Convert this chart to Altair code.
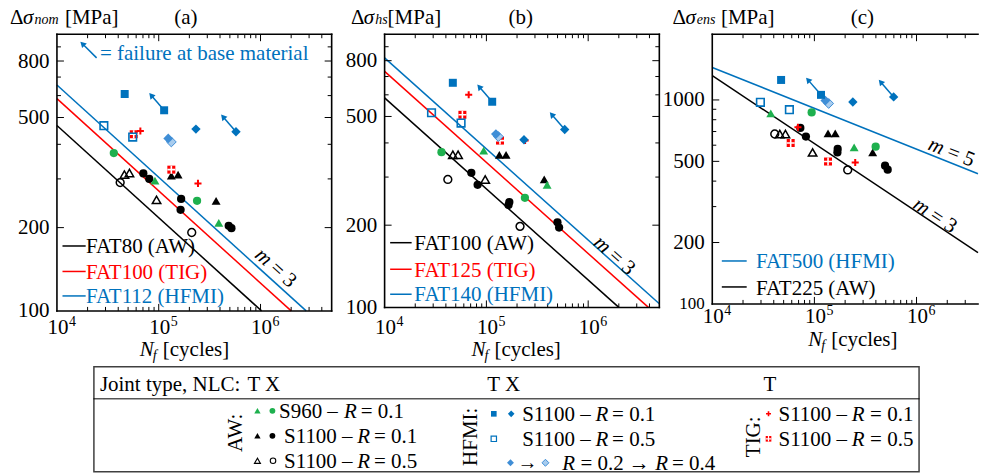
import altair as alt
import pandas as pd
import math

FONT = "Liberation Serif"
BLUE = "#0072BD"
RED = "#FF0000"
GREEN = "#1EB04E"
MIDBLUE = "#3F8ED6"
LIGHTBLUE = "#A8CCEE"
BLACK = "#000000"

# ======================= DATA =======================
# ---- panel (a): nominal stress ----
series_a = ["AW_960_T", "AW_960_T", "AW_960_X", "AW_960_X",
            "AW_01_T", "AW_01_T", "AW_01_T",
            "AW_01_X", "AW_01_X", "AW_01_X", "AW_01_X", "AW_01_X", "AW_01_X",
            "AW_05_T", "AW_05_T", "AW_05_T", "AW_05_X", "AW_05_X",
            "HF_01_T", "HF_01_T", "HF_01_X", "HF_01_X", "HF_05_T", "HF_05_T",
            "HF_R02", "HF_R04", "TIG_01", "TIG_01", "TIG_05", "TIG_05"]
N_a = [91800, 389000, 36200, 238000,
       133000, 155000, 366000,
       70600, 80700, 166000, 164000, 487000, 518000,
       46000, 51500, 95200, 41800, 211000,
       46300, 113000, 232000, 574000, 28900, 55500,
       124000, 133000, 66000, 243000, 56800, 133000]
S_a = [296, 208, 372, 250,
       308, 311, 250,
       314, 300, 254, 232, 203, 199,
       311, 315, 252, 291, 192,
       608, 531, 454, 444, 467, 425,
       420, 408, 447, 289, 435, 324]

# ---- panel (b): hot-spot stress ----
series_b = ["AW_960_T", "AW_960_T", "AW_960_X", "AW_960_X",
            "AW_01_T", "AW_01_T", "AW_01_T",
            "AW_01_X", "AW_01_X", "AW_01_X", "AW_01_X", "AW_01_X", "AW_01_X",
            "AW_05_T", "AW_05_T", "AW_05_T", "AW_05_X", "AW_05_X",
            "HF_01_T", "HF_01_T", "HF_01_X", "HF_01_X", "HF_05_T", "HF_05_T",
            "HF_R02", "HF_R04", "TIG_01", "TIG_01", "TIG_05", "TIG_05"]
N_b = [94000, 395000, 36200, 239000,
       134000, 156000, 370000,
       71100, 82000, 168000, 165000, 499000, 518000,
       46800, 52700, 97300, 41800, 214000,
       46800, 114000, 234000, 588000, 28900, 56400,
       124000, 131000, 67000, 240000, 58100, 136000]
S_b = [375, 281, 370, 252,
       362, 362, 294,
       311, 281, 243, 237, 205, 196,
       362, 362, 294, 294, 198,
       664, 566, 411, 448, 516, 473,
       431, 422, 600, 408, 507, 408]

# ---- panel (c): effective notch stress ----
series_c = ["AW_960_T", "AW_960_T", "AW_960_X", "AW_960_X",
            "AW_01_T", "AW_01_T", "AW_01_T",
            "AW_01_X", "AW_01_X", "AW_01_X", "AW_01_X", "AW_01_X", "AW_01_X",
            "AW_05_T", "AW_05_T", "AW_05_T", "AW_05_X", "AW_05_X",
            "HF_01_T", "HF_01_T", "HF_01_X", "HF_01_X", "HF_05_T", "HF_05_T",
            "HF_R02", "HF_R04", "TIG_01", "TIG_01", "TIG_05", "TIG_05"]
N_c = [37400, 245000, 94000, 398000,
       136000, 160000, 372000,
       72800, 82600, 169000, 168000, 492000, 522000,
       45800, 52000, 96000, 40900, 212000,
       47200, 116000, 238000, 597000, 29600, 56900,
       128000, 138000, 69000, 251000, 58600, 136000]
S_c = [859, 586, 869, 590,
       686, 686, 553,
       729, 661, 575, 553, 476, 455,
       681, 681, 553, 681, 454,
       1253, 1059, 977, 1035, 973, 896,
       993, 961, 734, 494, 615, 499]

# points that failed at base material (arrow origins)
arrowN_a = [113000, 574000]
arrowS_a = [531, 444]
arrowN_b = [114000, 588000]
arrowS_b = [566, 448]
arrowN_c = [116000, 597000]
arrowS_c = [1059, 1035]

# FAT design curves (end points)
fat_names_a = ["FAT80 (AW)", "FAT100 (TIG)", "FAT112 (HFMI)"]
fatN_a = [[1e4, 1.024e6], [1e4, 2.0e6], [1e4, 2.81e6]]
fatS_a = [[468, 100], [585, 100], [655, 100]]
fat_names_b = ["FAT100 (AW)", "FAT125 (TIG)", "FAT140 (HFMI)"]
fatN_b = [[1e4, 2.0e6], [1e4, 3.906e6], [1e4, 5.0e6]]
fatS_b = [[585, 100], [731, 100], [819, 103.2]]
fat_names_c = ["FAT500 (HFMI)", "FAT225 (AW)"]
fatN_c = [[1e4, 4.0e6], [1e4, 4.0e6]]
fatS_c = [[1443, 435], [1316, 178.6]]

# axis ticks
x_dec_vals = [1e4, 1e5, 1e6]
x_dec_exp = ["4", "5", "6"]
x_major = [1e5, 1e6]
x_minor_ab = [2e4, 3e4, 4e4, 5e4, 6e4, 7e4, 8e4, 9e4, 2e5, 3e5, 4e5, 5e5, 6e5, 7e5, 8e5, 9e5, 2e6, 3e6, 4e6]
x_minor_c = [2e4, 3e4, 4e4, 5e4, 6e4, 7e4, 8e4, 9e4, 2e5, 3e5, 4e5, 5e5, 6e5, 7e5, 8e5, 9e5, 2e6, 3e6]
y_labels_ab = [100, 200, 500, 800]
y_major_ab = [200, 500, 800]
y_minor_ab = [300, 400, 600, 700, 900]
y_labels_c = [100, 200, 500, 1000]
y_major_c = [200, 500, 1000]
y_minor_c = [300, 400, 600, 700, 800, 900]

# ======================= HELPERS =======================
ONE = pd.DataFrame({"k": [0]})
PLUS = "M-1,0L1,0M0,-1L0,1"


def txt(x, y, s, size=21, italic=False, color=BLACK, align="left", baseline="alphabetic", angle=0):
    kw = dict(text=s, font=FONT, fontSize=size, fontStyle="italic" if italic else "normal",
              color=color, align=align, baseline=baseline)
    if angle:
        kw["angle"] = angle
    return alt.Chart(ONE).mark_text(**kw).encode(x=alt.value(x), y=alt.value(y))


def hrule(x1, x2, y, color=BLACK, width=1.0):
    return alt.Chart(ONE).mark_rule(color=color, strokeWidth=width, strokeCap="square").encode(
        x=alt.value(x1), x2=alt.value(x2), y=alt.value(y))


def vrule(x, y1, y2, color=BLACK, width=1.0):
    return alt.Chart(ONE).mark_rule(color=color, strokeWidth=width, strokeCap="square").encode(
        x=alt.value(x), y=alt.value(y1), y2=alt.value(y2))


def marker_styles(key, k=1.0):
    tri, cir, sq, dia = 80 * k, 68 * k, 64 * k, 88 * k
    sw = 1.5 if k >= 1 else 1.1
    if key == "AW_960_T":
        return [dict(shape="triangle-up", filled=True, color=GREEN, size=tri)]
    if key == "AW_960_X":
        return [dict(shape="circle", filled=True, color=GREEN, size=cir)]
    if key == "AW_01_T":
        return [dict(shape="triangle-up", filled=True, color=BLACK, size=tri)]
    if key == "AW_01_X":
        return [dict(shape="circle", filled=True, color=BLACK, size=cir)]
    if key == "AW_05_T":
        return [dict(shape="triangle-up", filled=False, color=BLACK, size=tri * 0.9, strokeWidth=sw)]
    if key == "AW_05_X":
        return [dict(shape="circle", filled=False, color=BLACK, size=cir * 0.9, strokeWidth=sw)]
    if key == "HF_01_T":
        return [dict(shape="square", filled=True, color=BLUE, size=sq)]
    if key == "HF_01_X":
        return [dict(shape="diamond", filled=True, color=BLUE, size=dia)]
    if key == "HF_05_T":
        return [dict(shape="square", filled=False, color=BLUE, size=sq * 0.9, strokeWidth=sw + 0.1)]
    if key == "HF_R02":
        return [dict(shape="diamond", filled=True, color=MIDBLUE, size=dia * 1.1)]
    if key == "HF_R04":
        return [dict(shape="diamond", filled=True, fill=LIGHTBLUE, stroke=MIDBLUE, strokeWidth=1, size=dia * 1.1)]
    if key == "TIG_01":
        return [dict(shape=PLUS, filled=False, color=RED, size=50 * k, strokeWidth=2 if k >= 1 else 1.6)]
    if key == "TIG_05":
        return [dict(shape="square", filled=True, color=RED, size=sq),
                dict(shape=PLUS, filled=False, color="white", size=sq, strokeWidth=1.6 if k >= 1 else 1.2)]
    return []


ORDER = ["AW_05_X", "AW_05_T", "AW_01_X", "AW_01_T", "AW_960_X", "AW_960_T",
         "TIG_05", "TIG_01", "HF_05_T", "HF_R04", "HF_R02", "HF_01_T", "HF_01_X"]


def build_panel(P):
    W, H = P["W"], P["H"]
    xdom, ydom = P["xdom"], P["ydom"]
    xs = alt.Scale(type="log", domain=xdom, nice=False)
    ys = alt.Scale(type="log", domain=ydom, nice=False)
    lfs = 21
    if P.get("small100"):
        lfs = {"condition": {"test": "datum.value == 100", "value": 17}, "value": 21}
    yaxis = alt.Axis(values=P["ylab"], format="d", ticks=False, tickSize=0, domain=False, grid=False,
                     labelFont=FONT, labelFontSize=lfs, labelColor=BLACK, labelPadding=8,
                     title=None, labelOverlap=False, labelFlush=False)

    def X(f):
        return alt.X(f, type="quantitative", scale=xs, axis=None)

    def Y(f):
        return alt.Y(f, type="quantitative", scale=ys, axis=yaxis)

    L = []
    if P.get("anchor"):
        L.append(alt.Chart(ONE).mark_rule(color="white", strokeWidth=0.5).encode(
            x=alt.value(-56), x2=alt.value(-55), y=alt.value(-33)))

    # design curves
    for Ns, Ss, col in zip(P["fatN"], P["fatS"], P["fatC"]):
        d = pd.DataFrame({"N": Ns, "S": Ss})
        L.append(alt.Chart(d).mark_line(color=col, strokeWidth=1.5).encode(x=X("N"), y=Y("S")))

    # arrows (failure at base material)
    ppx = W / math.log10(xdom[1] / xdom[0])
    ppy = H / math.log10(ydom[1] / ydom[0])
    fx = 10 ** (-13 / ppx)
    fy = 10 ** (15 / ppy)
    da = pd.DataFrame({"N": P["arrN"], "S": P["arrS"]})
    da["N2"] = da["N"] * fx
    da["S2"] = da["S"] * fy
    L.append(alt.Chart(da).mark_rule(color=BLUE, strokeWidth=1.5).encode(
        x=X("N"), x2=alt.X2("N2"), y=Y("S"), y2=alt.Y2("S2")))
    L.append(alt.Chart(da).mark_point(shape="triangle-up", filled=True, color=BLUE, opacity=1,
                                      size=45, angle=319).encode(x=X("N2"), y=Y("S2")))

    # markers
    df = pd.DataFrame({"series": P["series"], "N": P["N"], "S": P["S"]})
    for key in ORDER:
        sub = df[df["series"] == key]
        if len(sub) == 0:
            continue
        base = alt.Chart(sub).encode(x=X("N"), y=Y("S"))
        for st in marker_styles(key):
            L.append(base.mark_point(opacity=1, **st))

    # inward ticks
    def yt(vals, ln):
        d = pd.DataFrame({"v": vals})
        out = [alt.Chart(d).mark_rule(color=BLACK, strokeWidth=1).encode(y=Y("v"), x=alt.value(0), x2=alt.value(ln))]
        if P["right"]:
            out.append(alt.Chart(d).mark_rule(color=BLACK, strokeWidth=1).encode(
                y=Y("v"), x=alt.value(W), x2=alt.value(W - ln)))
        return out

    def xt(vals, ln):
        d = pd.DataFrame({"v": vals})
        return [alt.Chart(d).mark_rule(color=BLACK, strokeWidth=1).encode(x=X("v"), y=alt.value(H), y2=alt.value(H - ln)),
                alt.Chart(d).mark_rule(color=BLACK, strokeWidth=1).encode(x=X("v"), y=alt.value(0), y2=alt.value(ln))]

    L += yt(P["ymaj"], 7) + yt(P["ymin"], 4) + xt(x_major, 7) + xt(P["xmin"], 4)

    # frame
    L.append(vrule(0, 0, H, width=1.6))
    L.append(hrule(0, W, H, width=1.6))
    L.append(hrule(0, W, 0, width=1.6))
    if P["right"]:
        L.append(vrule(W, 0, H, width=1.6))

    # x tick labels 10^k
    dl = pd.DataFrame({"v": x_dec_vals, "e": x_dec_exp})
    bl = alt.Chart(dl).encode(x=X("v"))
    L.append(bl.mark_text(text="10", font=FONT, fontSize=21, align="center", baseline="middle", dx=1,
                          color=BLACK).encode(y=alt.value(P["xlab_y"])))
    L.append(bl.mark_text(font=FONT, fontSize=14, align="center", baseline="middle", dx=15.5,
                          color=BLACK).encode(y=alt.value(P["xlab_y"] - 6), text="e:N"))

    # slope annotations
    for (n, s, ang, num) in P["slopes"]:
        d = pd.DataFrame({"N": [n], "S": [s]})
        b = alt.Chart(d).encode(x=X("N"), y=Y("S"))
        L.append(b.mark_text(text="m", font=FONT, fontSize=21, fontStyle="italic", align="right",
                             baseline="middle", angle=ang, dx=-8.5, color=BLACK))
        L.append(b.mark_text(text="= " + num, font=FONT, fontSize=21, align="left",
                             baseline="middle", angle=ang, dx=-3.5, color=BLACK))

    # in-panel legend of design curves
    for (x1, x2, y, col) in P["leg_lines"]:
        L.append(hrule(x1, x2, y, color=col, width=1.5))
    for (s, x, y, col) in P["leg_texts"]:
        L.append(txt(x, y, s, color=col))

    # titles / axis titles
    for (s, x, y, size, it, align) in P["texts"]:
        L.append(txt(x, y, s, size=size, italic=it, align=align, baseline="middle"))
    nx, ny = P["xtitle"]
    L.append(txt(nx, ny, "N", italic=True))
    L.append(txt(nx + 13, ny + 4, "f", size=14, italic=True))
    L.append(txt(nx + P["cyc_dx"], ny, "[cycles]"))

    # extra (failure note, bottom legend)
    for extra in P.get("extra", []):
        L.append(extra)

    return alt.layer(*L).properties(width=W, height=H)


# ======================= BOTTOM LEGEND (drawn from panel a's origin) =======================
LX, LY = 56, 33


def lt(x, y, s, **kw):
    return txt(x - LX, y - LY, s, **kw)


def lm(x, y, key):
    base = alt.Chart(ONE).encode(x=alt.value(x - LX), y=alt.value(y - LY))
    return [base.mark_point(opacity=1, **st) for st in marker_styles(key, 0.5)]


leg = []
leg.append(alt.Chart(ONE).mark_rect(fill="white", fillOpacity=0, stroke="#404040", strokeWidth=1.5).encode(
    x=alt.value(93 - LX), x2=alt.value(919 - LX), y=alt.value(366 - LY), y2=alt.value(471 - LY)))
leg.append(hrule(93 - LX, 919 - LX, 398 - LY, width=1))
leg.append(lt(99, 390, "Joint type, NLC:"))
leg.append(lt(246.7, 390, "T X"))
leg.append(lt(486.7, 390, "T X"))
leg.append(lt(763.3, 390, "T"))
leg.append(lt(235, 432, "AW:", align="center", baseline="middle", angle=270))
leg.append(lt(470, 436, "HFMI:", align="center", baseline="middle", angle=270))
leg.append(lt(753.3, 436, "TIG:", align="center", baseline="middle", angle=270))

# AW rows
leg += lm(256.7, 410, "AW_960_T") + lm(271.7, 410, "AW_960_X")
leg += [lt(278.3, 417, "S960 –"), lt(343.3, 417, "R", italic=True), lt(360, 417, "= 0.1")]
leg += lm(256.7, 435, "AW_01_T") + lm(271.7, 435, "AW_01_X")
leg += [lt(283.3, 442, "S1100 –"), lt(356.7, 442, "R", italic=True), lt(373.3, 442, "= 0.1")]
leg += lm(256.7, 460, "AW_05_T") + lm(272.3, 460, "AW_05_X")
leg += [lt(283.3, 467, "S1100 –"), lt(356.7, 467, "R", italic=True), lt(373.3, 467, "= 0.5")]

# HFMI rows
leg += lm(493.3, 413, "HF_01_T") + lm(510.7, 413, "HF_01_X")
leg += [lt(521.7, 420, "S1100 –"), lt(595, 420, "R", italic=True), lt(611.7, 420, "= 0.1")]
leg += lm(493.3, 438, "HF_05_T")
leg += [lt(521.7, 445, "S1100 –"), lt(595, 445, "R", italic=True), lt(611.7, 445, "= 0.5")]
leg += lm(510, 462, "HF_R02") + lm(545, 462, "HF_R04")
leg += [lt(527, 468, "→", size=20, align="center")]
leg += [lt(561.7, 469, "R", italic=True), lt(580, 469, "= 0.2"), lt(628.3, 469, "→"),
        lt(655, 469, "R", italic=True), lt(671.7, 469, "= 0.4")]

# TIG rows
leg += lm(768.3, 413, "TIG_01")
leg += [lt(778.3, 420, "S1100 –"), lt(851.7, 420, "R", italic=True), lt(870, 420, "= 0.1")]
leg += lm(768.3, 438, "TIG_05")
leg += [lt(778.3, 445, "S1100 –"), lt(851.7, 445, "R", italic=True), lt(870, 445, "= 0.5")]

# ======================= PANELS =======================
failure_note = [
    alt.Chart(ONE).mark_rule(color=BLUE, strokeWidth=1.5).encode(
        x=alt.value(39.7), x2=alt.value(27), y=alt.value(23.7), y2=alt.value(11)),
    alt.Chart(ONE).mark_point(shape="triangle-up", filled=True, color=BLUE, opacity=1, size=45,
                              angle=315).encode(x=alt.value(25.5), y=alt.value(9.5)),
    txt(43, 26, "= failure at base material", color=BLUE),
]

PA = dict(W=275, H=277, xdom=[1e4, 5e6], ydom=[100, 1000],
          ylab=y_labels_ab, ymaj=y_major_ab, ymin=y_minor_ab, xmin=x_minor_ab, right=True,
          series=series_a, N=N_a, S=S_a, arrN=arrowN_a, arrS=arrowS_a,
          fatN=fatN_a, fatS=fatS_a, fatC=[BLACK, RED, BLUE],
          xlab_y=293.7, slopes=[(1.4e6, 143, 42, "3")],
          leg_lines=[(6.3, 28, 212, BLACK), (6.3, 28, 237.5, RED), (6.3, 28, 262, BLUE)],
          leg_texts=[(fat_names_a[0], 29, 218.7, BLACK), (fat_names_a[1], 29, 245, RED),
                     (fat_names_a[2], 29, 268.7, BLUE)],
          texts=[("Δ", -47, -16.3, 21, False, "left"), ("σ", -34, -16.3, 21, True, "left"),
                 ("nom", -22.5, -14.5, 14, True, "left"), ("[MPa]", 8, -16.3, 21, False, "left"),
                 ("(a)", 129, -16.3, 21, False, "center")],
          xtitle=(83, 322), cyc_dx=23, extra=failure_note + leg, anchor=True)

PB = dict(W=275, H=273.5, xdom=[1e4, 5e6], ydom=[100, 1000],
          ylab=y_labels_ab, ymaj=y_major_ab, ymin=y_minor_ab, xmin=x_minor_ab, right=True,
          series=series_b, N=N_b, S=S_b, arrN=arrowN_b, arrS=arrowS_b,
          fatN=fatN_b, fatS=fatS_b, fatC=[BLACK, RED, BLUE],
          xlab_y=293.7, slopes=[(1.8e6, 155, 41.6, "3")],
          leg_lines=[(6.3, 26.3, 208.7, BLACK), (6.3, 26.3, 235.3, RED), (6.3, 26.3, 260.3, BLUE)],
          leg_texts=[(fat_names_b[0], 29.7, 216, BLACK), (fat_names_b[1], 29.7, 242.7, RED),
                     (fat_names_b[2], 29.7, 267, BLUE)],
          texts=[("Δ", -33.7, -16.3, 21, False, "left"), ("σ", -20.8, -16.3, 21, True, "left"),
                 ("hs", -9.3, -14.5, 14, True, "left"), ("[MPa]", 3, -16.3, 21, False, "left"),
                 ("(b)", 136.3, -16.3, 21, False, "center")],
          xtitle=(87, 322), cyc_dx=23)

PC = dict(W=266, H=270, xdom=[1e4, 4e6], ydom=[100, 2100],
          ylab=y_labels_c, ymaj=y_major_c, ymin=y_minor_c, xmin=x_minor_c, right=False,
          small100=True,
          series=series_c, N=N_c, S=S_c, arrN=arrowN_c, arrS=arrowS_c,
          fatN=fatN_c, fatS=fatS_c, fatC=[BLUE, BLACK],
          xlab_y=283.0, slopes=[(1.51e6, 271, 33.6, "3"), (2.19e6, 553, 21.7, "5")],
          leg_lines=[(10.3, 33.7, 227, BLUE), (10.3, 33.7, 253, BLACK)],
          leg_texts=[(fat_names_c[0], 43.7, 234.3, BLUE), (fat_names_c[1], 43.7, 261, BLACK)],
          texts=[("Δ", -39.7, -16.3, 21, False, "left"), ("σ", -26.8, -16.3, 21, True, "left"),
                 ("ens", -15.5, -14.5, 14, True, "left"), ("[MPa]", 8.7, -16.3, 21, False, "left"),
                 ("(c)", 150.3, -16.3, 21, False, "center")],
          xtitle=(96, 312), cyc_dx=23)

pa = build_panel(PA)
pb = build_panel(PB)
pc = build_panel(PC)

chart = alt.hconcat(pa, pb, pc, spacing=53, bounds="flush").properties(
    padding={"left": 0, "top": 0, "right": 0, "bottom": 1}
).configure_view(strokeWidth=0)

chart.save("out.html", embed_options={"renderer": "svg", "actions": False})
